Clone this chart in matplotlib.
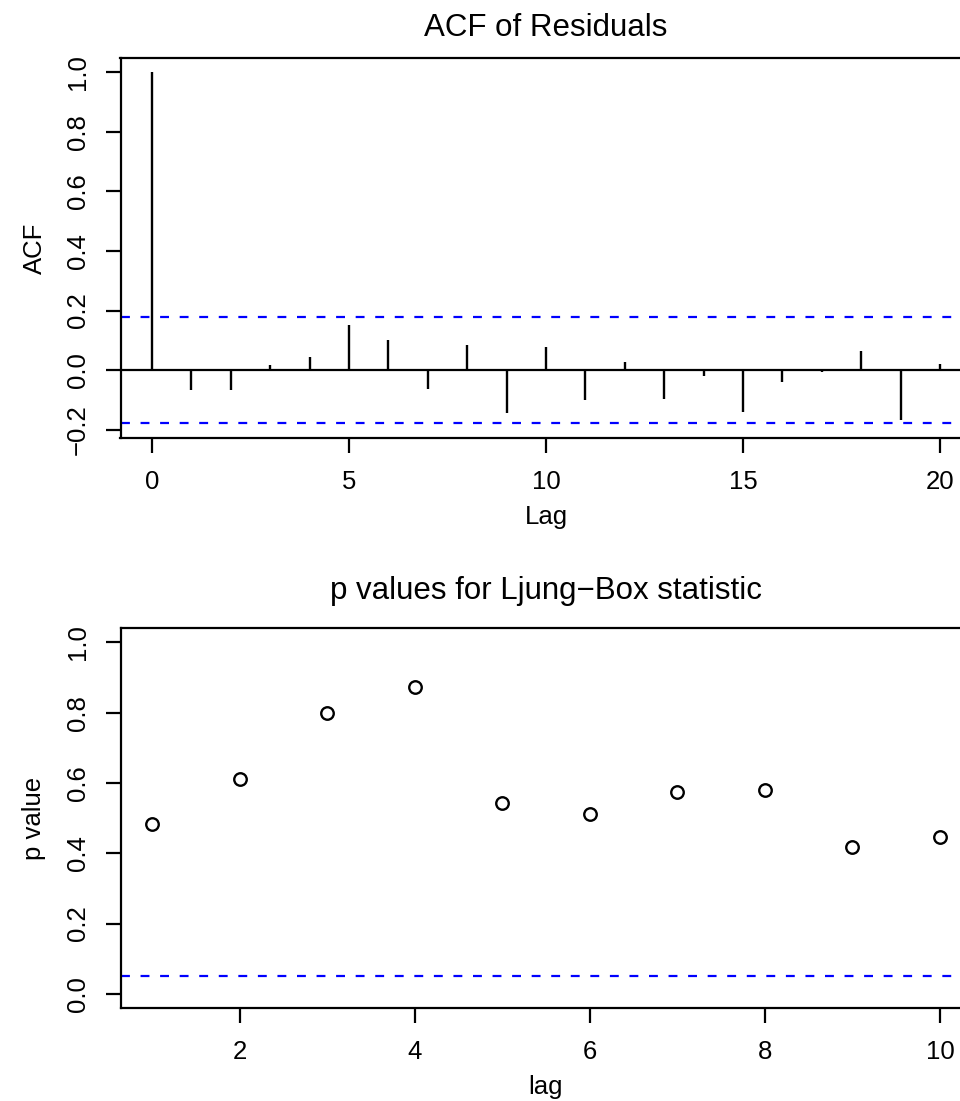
import numpy as np
import matplotlib
matplotlib.use("Agg")
import matplotlib.pyplot as plt

plt.rcParams['font.family'] = ['Liberation Sans', 'DejaVu Sans']

# ACF of residuals, lags 0..20
acf_lags = np.arange(0, 21)
acf_vals = [1.0, -0.067, -0.067, 0.017, 0.045, 0.152, 0.100, -0.064, 0.085, -0.145,
            0.076, -0.101, 0.028, -0.096, -0.019, -0.142, -0.041, -0.008, 0.063, -0.168, 0.021]
n_obs = 120
ci = 1.96 / np.sqrt(n_obs)

# Ljung-Box p values, lags 1..10
lb_lags = np.arange(1, 11)
lb_pvals = [0.483, 0.611, 0.798, 0.872, 0.543, 0.512, 0.574, 0.581, 0.419, 0.447]

acf_xticks = [0, 5, 10, 15, 20]
acf_yticks = [-0.2, 0.0, 0.2, 0.4, 0.6, 0.8, 1.0]
lb_xticks = [2, 4, 6, 8, 10]
lb_yticks = [0.0, 0.2, 0.4, 0.6, 0.8, 1.0]

W, H = 960, 1101
fig = plt.figure(figsize=(W / 100, H / 100), dpi=100)


def px_axes(left, top, right, bottom):
    return fig.add_axes([left / W, 1 - bottom / H, (right - left) / W, (bottom - top) / H])


def r_style(ax, xticks, yticks):
    for s in ax.spines.values():
        s.set_linewidth(1.6)
    ax.set_xticks(xticks)
    ax.set_yticks(yticks)
    ax.set_yticklabels([f"{v:.1f}".replace("-", "\u2212") for v in yticks])
    ax.tick_params(length=11, width=1.6, labelsize=18.5, direction='out')
    ax.tick_params(axis='x', pad=12)
    ax.tick_params(axis='y', pad=11, labelrotation=90)
    for lab in ax.get_yticklabels():
        lab.set_va('center')


dash = (0, (4, 4.8))

# top panel: ACF
ax1 = px_axes(120.5, 58.3, 971.5, 437.7)
ax1.vlines(acf_lags, 0, acf_vals, color='black', lw=1.7)
ax1.axhline(0, color='black', lw=1.6)
ax1.axhline(ci, color='blue', lw=1.6, ls=dash)
ax1.axhline(-ci, color='blue', lw=1.6, ls=dash)
ax1.set_xlim(-0.8, 20.8)
ax1.set_ylim(-0.227, 1.047)
r_style(ax1, acf_xticks, acf_yticks)
ax1.set_title("ACF of Residuals", fontsize=22.5, pad=16)
ax1.set_xlabel("Lag", fontsize=18.5, labelpad=8)
ax1.set_ylabel("ACF", fontsize=18.5, labelpad=14)

# bottom panel: Ljung-Box p values
ax2 = px_axes(120.5, 628.2, 971.5, 1008)
ax2.plot(lb_lags, lb_pvals, 'o', mfc='none', mec='black', ms=9, mew=1.7)
ax2.axhline(0.05, color='blue', lw=1.6, ls=dash)
ax2.set_xlim(0.64, 10.36)
ax2.set_ylim(-0.04, 1.04)
r_style(ax2, lb_xticks, lb_yticks)
ax2.set_title("p values for Ljung\u2212Box statistic", fontsize=22.5, pad=21)
ax2.set_xlabel("lag", fontsize=18.5, labelpad=8)
ax2.set_ylabel("p value", fontsize=18.5, labelpad=14)

fig.savefig("out.png", dpi=100)
